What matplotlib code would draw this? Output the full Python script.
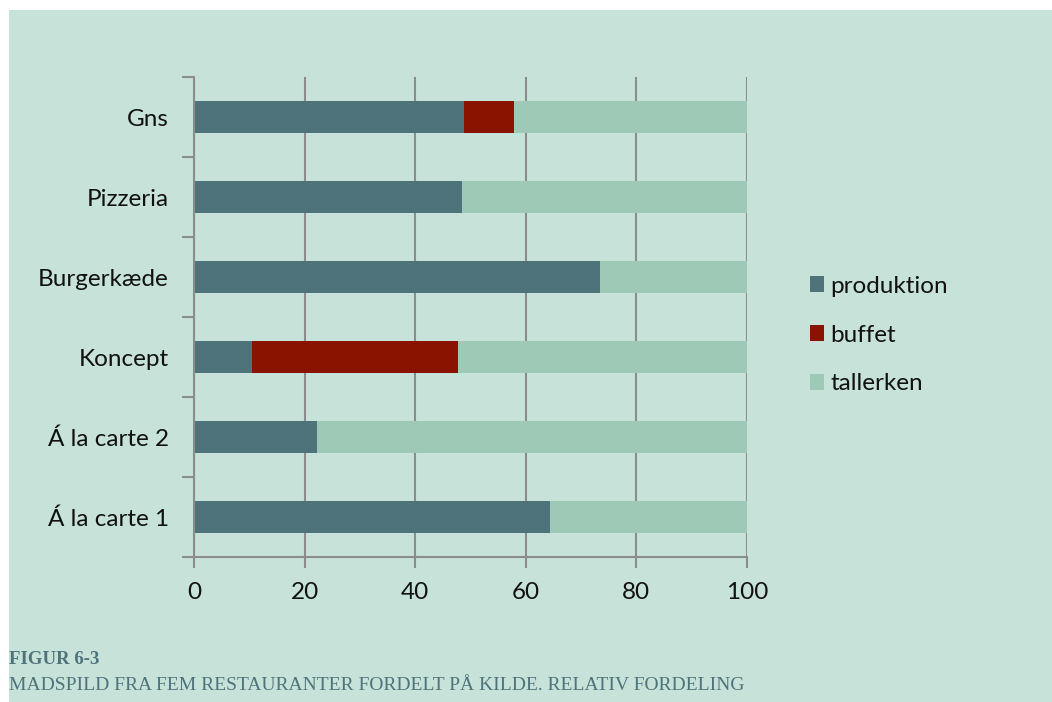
import matplotlib
matplotlib.use("Agg")
import matplotlib.pyplot as plt
from matplotlib.patches import Rectangle, Patch
import numpy as np

categories = ["Á la carte 1", "Á la carte 2", "Koncept", "Burgerkæde", "Pizzeria", "Gns"]
produktion = [64.4, 22.2, 10.5, 73.4, 48.5, 48.8]
buffet = [0.0, 0.0, 37.2, 0.0, 0.0, 9.1]
tallerken = [35.6, 77.8, 52.3, 26.6, 51.5, 42.1]
series_names = ["produktion", "buffet", "tallerken"]
x_ticks = [0, 20, 40, 60, 80, 100]

BG = "#C7E3D9"
C_PROD = "#4E737A"
C_BUF = "#8A1300"
C_TAL = "#9DC9B6"
GRID = "#8C8C8C"
CAPTION = "#4E737A"
FONT_SIZE = 17.5

W, H = 1052, 702
fig = plt.figure(figsize=(W / 100, H / 100), dpi=100)
fig.patch.set_facecolor("white")
fig.patches.append(Rectangle((9 / W, 0), 1 - 9 / W, 1 - 10 / H,
                             transform=fig.transFigure, facecolor=BG,
                             edgecolor="none", zorder=-10))

ax = fig.add_axes([194 / W, (H - 557) / H, (747 - 194) / W, (557 - 77) / H])
ax.set_zorder(2)
ax.set_facecolor("none")

y = np.arange(len(categories))
prod = np.array(produktion)
buf = np.array(buffet)
tal = np.array(tallerken)
h = 0.4
ax.barh(y, prod, height=h, color=C_PROD, zorder=3)
ax.barh(y, buf, left=prod, height=h, color=C_BUF, zorder=3)
ax.barh(y, tal, left=prod + buf, height=h, color=C_TAL, zorder=3)

ax.set_xlim(0, 100)
ax.set_ylim(-0.5, len(categories) - 0.5)
ax.set_xticks(x_ticks)
ax.set_xticklabels([str(v) for v in x_ticks])
ax.set_yticks(y)
ax.set_yticklabels(categories)
ax.set_yticks(np.arange(-0.5, len(categories)), minor=True)
ax.tick_params(axis="y", which="major", length=0, pad=18)
ax.tick_params(axis="y", which="minor", length=9, width=1.5, color=GRID, direction="out")
ax.tick_params(axis="x", which="major", length=8, width=1.5, color=GRID, direction="out", pad=10)
for lbl in ax.get_xticklabels() + ax.get_yticklabels():
    lbl.set_fontfamily("Lato")
    lbl.set_fontsize(FONT_SIZE)
    lbl.set_color("#111111")

ax.grid(axis="x", color=GRID, linewidth=1.5, zorder=1)
ax.set_axisbelow(True)
for side in ("top", "right"):
    ax.spines[side].set_visible(False)
for side in ("left", "bottom"):
    ax.spines[side].set_color(GRID)
    ax.spines[side].set_linewidth(1.5)
    ax.spines[side].set_zorder(4)

handles = [Patch(facecolor=c, edgecolor="none") for c in (C_PROD, C_BUF, C_TAL)]
fig.legend(handles, series_names, loc="center left",
           bbox_to_anchor=(788 / W, 1 - 335 / H), frameon=False,
           prop={"family": "Lato", "size": FONT_SIZE}, handlelength=0.6, handleheight=0.6,
           handletextpad=0.25, labelspacing=1.15, labelcolor="#111111")

fig.text(9 / W, 1 - 660 / H, "FIGUR 6-3", fontfamily="Liberation Serif",
         fontweight="bold", fontsize=13.5, color=CAPTION, va="center", ha="left")
fig.text(9 / W, 1 - 685 / H,
         "MADSPILD FRA FEM RESTAURANTER FORDELT PÅ KILDE. RELATIV FORDELING",
         fontfamily="Liberation Serif", fontsize=14, color=CAPTION,
         va="center", ha="left")

fig.savefig("out.png", dpi=100, facecolor=fig.get_facecolor())
